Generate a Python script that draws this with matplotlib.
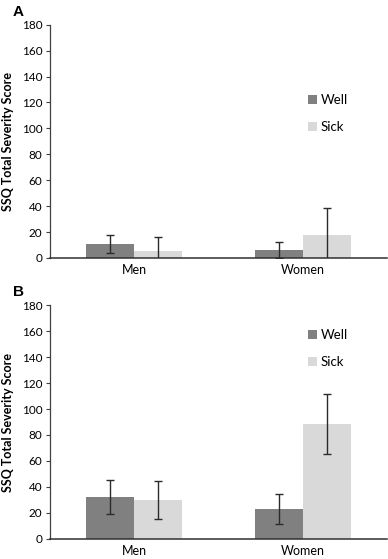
import matplotlib
matplotlib.use("Agg")
import matplotlib.pyplot as plt
import numpy as np

categories = ["Men", "Women"]
series = ["Well", "Sick"]
# Panel A
a_well = [11.0, 6.0]
a_well_err = [6.8, 6.2]
a_sick = [5.5, 17.5]
a_sick_err = [10.8, 21.3]
# Panel B
b_well = [32.0, 23.1]
b_well_err = [13.0, 11.4]
b_sick = [29.8, 88.5]
b_sick_err = [14.6, 23.0]
yticks = [0, 20, 40, 60, 80, 100, 120, 140, 160, 180]
panel_labels = ["A", "B"]

well_color = "#808080"
sick_color = "#d9d9d9"
ecolor = "#2b2b2b"
font = "Lato"

fig = plt.figure(figsize=(3.88, 5.59), dpi=100)
W, H = 388, 559
left, right = 50, 387
tops = [24.7, 305.3]
bottoms = [258.0, 538.7]
legend_pos = [(0.745, 0.73), (0.745, 0.925)]

panels = [(a_well, a_well_err, a_sick, a_sick_err), (b_well, b_well_err, b_sick, b_sick_err)]
bw = 0.285
x = np.arange(len(categories))
for i, (wv, we, sv, se) in enumerate(panels):
    ax = fig.add_axes([left / W, 1 - bottoms[i] / H, (right - left) / W, (bottoms[i] - tops[i]) / H])
    ax.bar(x - bw / 2, wv, bw, color=well_color, label=series[0], zorder=2)
    ax.bar(x + bw / 2, sv, bw, color=sick_color, label=series[1], zorder=2)
    ax.errorbar(x - bw / 2, wv, yerr=we, fmt="none", ecolor=ecolor, elinewidth=1.0, capsize=2.8, capthick=1.0, zorder=3)
    ax.errorbar(x + bw / 2, sv, yerr=se, fmt="none", ecolor=ecolor, elinewidth=1.0, capsize=2.8, capthick=1.0, zorder=3)
    ax.set_xlim(-0.5, 1.5)
    ax.set_ylim(0, 180)
    ax.set_yticks(yticks)
    ax.set_yticklabels([str(t) for t in yticks], fontfamily=font, fontsize=8.5)
    ax.set_xticks(x)
    ax.set_xticklabels(categories, fontfamily=font, fontsize=9)
    ax.tick_params(axis="x", length=0, pad=4.5)
    ax.tick_params(axis="y", length=3, width=0.8, color="#404040", pad=2.5)
    for s in ["top", "right"]:
        ax.spines[s].set_visible(False)
    ax.spines["left"].set_color("#404040")
    ax.spines["bottom"].set_color("#303030")
    ax.spines["left"].set_linewidth(0.9)
    ax.spines["bottom"].set_linewidth(1.1)
    ax.set_ylabel("SSQ Total Severity Score", fontfamily=font, fontweight="bold", fontsize=9)
    ax.yaxis.set_label_coords(-0.106, 0.5)
    ax.legend(loc="upper left", bbox_to_anchor=legend_pos[i], frameon=False,
              prop={"family": font, "size": 9.5}, handlelength=0.7, handleheight=0.7,
              handletextpad=0.3, labelspacing=1.1, borderpad=0)
    fig.text(13 / W, 1 - (12 + (0 if i == 0 else 280)) / H, panel_labels[i],
             fontfamily="Liberation Sans", fontweight="bold", fontsize=11, va="center", ha="left")

fig.savefig("out.png", dpi=100)
